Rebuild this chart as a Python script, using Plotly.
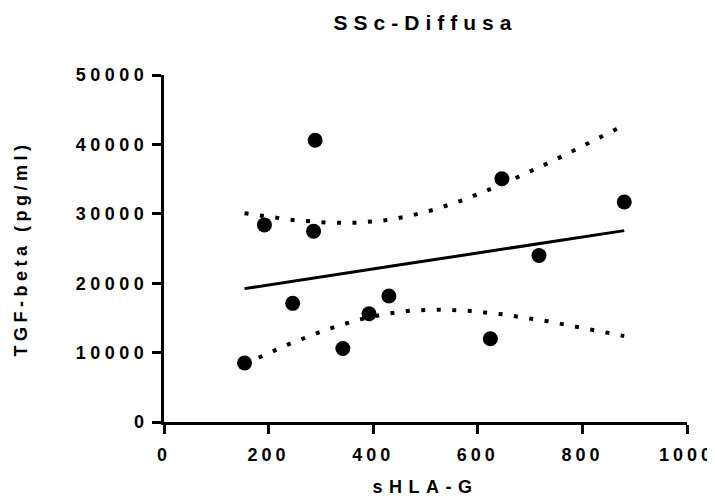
import numpy as np
import plotly.graph_objects as go

# data
shla_g = [154, 192, 289, 286, 246, 342, 392, 430, 646, 880, 717, 624]
tgf_beta = [8500, 28400, 40600, 27500, 17100, 10600, 15600, 18150, 35050, 31700, 24000, 12000]

x_ticks = [0, 200, 400, 600, 800, 1000]
y_ticks = [0, 10000, 20000, 30000, 40000, 50000]

title_text = "SSc-Diffusa"
x_title = "sHLA-G"
y_title = "TGF-beta (pg/ml)"

T_975_DF10 = 2.228  # Student t critical value for 95% CI


def sp(text, ls):
    return f'<b><span style="letter-spacing:{ls}px">{text}</span></b>'


x = np.array(shla_g, float)
y = np.array(tgf_beta, float)
n = len(x)
slope, intercept = np.polyfit(x, y, 1)
resid = y - (slope * x + intercept)
s = np.sqrt(np.sum(resid ** 2) / (n - 2))
xbar = x.mean()
sxx = np.sum((x - xbar) ** 2)
xf = np.linspace(x.min(), x.max(), 200)
yf = slope * xf + intercept
half = T_975_DF10 * s * np.sqrt(1 / n + (xf - xbar) ** 2 / sxx)

fig = go.Figure()
fig.add_trace(go.Scatter(x=xf, y=yf + half, mode="lines",
                         line=dict(color="black", width=4, dash="4px,11.5px"),
                         hoverinfo="skip", showlegend=False))
fig.add_trace(go.Scatter(x=xf, y=yf - half, mode="lines",
                         line=dict(color="black", width=4, dash="4px,11.5px"),
                         hoverinfo="skip", showlegend=False))
fig.add_trace(go.Scatter(x=xf, y=yf, mode="lines",
                         line=dict(color="black", width=3),
                         showlegend=False))
fig.add_trace(go.Scatter(x=shla_g, y=tgf_beta, mode="markers",
                         marker=dict(color="black", size=15),
                         showlegend=False))

font_family = "Liberation Sans, Arial, sans-serif"

fig.update_layout(
    width=707, height=491,
    margin=dict(l=156, r=28, t=67, b=77),
    paper_bgcolor="white", plot_bgcolor="white",
    title=dict(text=sp(title_text, 6), x=0.5, xref="paper", xanchor="center",
               y=1 - 15 / 491, yanchor="middle", yref="container",
               font=dict(family=font_family, size=21, color="black")),
    xaxis=dict(range=[0, 1000], tickvals=x_ticks, automargin=False,
               ticktext=[sp(str(v), 4) for v in x_ticks],
               showline=True, linecolor="black", linewidth=3,
               ticks="outside", ticklen=9, tickwidth=3, tickcolor="black",
               showgrid=False, zeroline=False, ticklabeloverflow="allow",
               tickfont=dict(family=font_family, size=18, color="black"),
               ticklabelstandoff=5,
               title=dict(text=sp(x_title, 6.5), standoff=17,
                          font=dict(family=font_family, size=18, color="black"))),
    yaxis=dict(range=[0, 50000], tickvals=y_ticks, automargin=False,
               ticktext=[sp(str(v), 4.5) for v in y_ticks],
               showline=True, linecolor="black", linewidth=3,
               ticks="outside", ticklen=9, tickwidth=3, tickcolor="black",
               showgrid=False, zeroline=False,
               tickfont=dict(family=font_family, size=18, color="black"),
               title=dict(text=sp(y_title, 4.5), standoff=44,
                          font=dict(family=font_family, size=18, color="black"))),
)

fig.write_html("out.html")
